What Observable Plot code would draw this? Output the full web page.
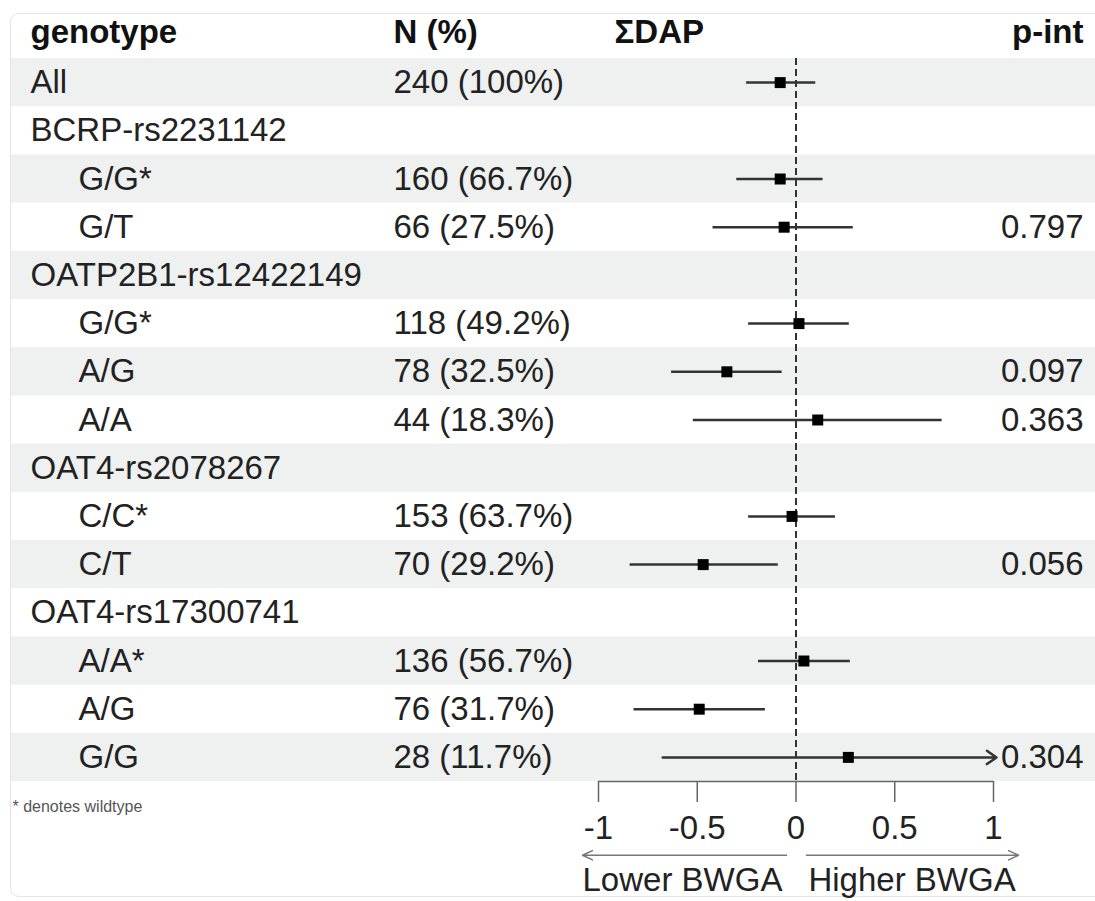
<!DOCTYPE html>
<html>
<head>
<meta charset="utf-8">
<script src="https://cdn.jsdelivr.net/npm/d3@7"></script>
<script src="https://cdn.jsdelivr.net/npm/@observablehq/plot@0.6"></script>
<style>
  html, body { margin: 0; padding: 0; background: #fff; }
  #wrap { position: relative; width: 1095px; height: 901px; overflow: hidden; }
  #border { position: absolute; left: 10px; top: 13px; width: 1110px; height: 884px;
            border: 1.5px solid #e4e4e4; border-radius: 9px; box-sizing: border-box; }
  #chart { position: absolute; left: 0; top: 0; }
</style>
</head>
<body>
<div id="wrap"><div id="border"></div><div id="chart"></div></div>
<script>
// ---- data ----
const labels = ["All", "BCRP-rs2231142", "G/G*", "G/T", "OATP2B1-rs12422149", "G/G*", "A/G", "A/A",
                "OAT4-rs2078267", "C/C*", "C/T", "OAT4-rs17300741", "A/A*", "A/G", "G/G"];
const indented = [false, false, true, true, false, true, true, true, false, true, true, false, true, true, true];
const nPct = ["240 (100%)", "", "160 (66.7%)", "66 (27.5%)", "", "118 (49.2%)", "78 (32.5%)", "44 (18.3%)",
              "", "153 (63.7%)", "70 (29.2%)", "", "136 (56.7%)", "76 (31.7%)", "28 (11.7%)"];
const estimate = [-0.08, null, -0.08, -0.06, null, 0.015, -0.35, 0.11, null, -0.02, -0.47, null, 0.04, -0.49, 0.265];
const lower    = [-0.25, null, -0.30, -0.42, null, -0.24, -0.63, -0.52, null, -0.24, -0.84, null, -0.19, -0.82, -0.675];
const upper    = [0.10, null, 0.137, 0.29, null, 0.27, -0.07, 0.74, null, 0.20, -0.09, null, 0.275, -0.155, 1.21];
const pInt = ["", "", "", "0.797", "", "", "0.097", "0.363", "", "", "0.056", "", "", "", "0.304"];
const headers = ["genotype", "N (%)", "ΣDAP", "p-int"];
const xTicks = [-1, -0.5, 0, 0.5, 1];
const xLimit = [-1, 1];
const directions = [
  {label: "Lower BWGA", from: -0.048, to: -1.081},
  {label: "Higher BWGA", from: 0.053, to: 1.127}
];
const footnote = "* denotes wildtype";

// ---- table built from arrays ----
const rows = labels.map((label, i) => ({
  i, label, indented: indented[i], n: nPct[i], est: estimate[i], lo: lower[i], hi: upper[i], p: pInt[i]
}));
const ests = rows.filter(d => d.est != null);
const within = ests.filter(d => d.hi <= xLimit[1]);
const beyond = ests.filter(d => d.hi > xLimit[1]);

const textColor = "#222";
const fs = 33;

const plot = Plot.plot({
  width: 1095,
  height: 901,
  marginTop: 58,
  marginBottom: 120,
  marginLeft: 0,
  marginRight: 0,
  style: {fontFamily: "'Liberation Sans', Arial, Helvetica, sans-serif", background: "transparent"},
  x: {domain: xLimit, range: [598, 993], axis: null},
  y: {domain: [-0.5, 14.5], range: [58, 781], axis: null},
  marks: [
    // alternating row shading
    Plot.rect(rows.filter(d => d.i % 2 === 0), {y1: d => d.i - 0.5, y2: d => d.i + 0.5, fill: "#eef1f0", insetLeft: 11}),
    // zero reference
    Plot.ruleX([0], {stroke: "#333", strokeWidth: 2, strokeDasharray: "7,4"}),
    // headers
    Plot.text([headers[0]], {frameAnchor: "left", y: () => -1.05, dx: 30, text: d => d, textAnchor: "start", fontWeight: "bold", fontSize: fs, fill: "#111"}),
    Plot.text([headers[1]], {frameAnchor: "left", y: () => -1.05, dx: 393, text: d => d, textAnchor: "start", fontWeight: "bold", fontSize: fs, fill: "#111"}),
    Plot.text([headers[2]], {frameAnchor: "left", y: () => -1.05, dx: 614, text: d => d, textAnchor: "start", fontWeight: "bold", fontSize: fs, fill: "#111"}),
    Plot.text([headers[3]], {frameAnchor: "right", y: () => -1.05, dx: -12, text: d => d, textAnchor: "end", fontWeight: "bold", fontSize: fs, fill: "#111"}),
    // genotype column
    Plot.text(rows.filter(d => !d.indented), {frameAnchor: "left", y: "i", dx: 30, text: "label", textAnchor: "start", fontSize: fs, fill: textColor}),
    Plot.text(rows.filter(d => d.indented), {frameAnchor: "left", y: "i", dx: 78, text: "label", textAnchor: "start", fontSize: fs, fill: textColor}),
    // N (%) column
    Plot.text(rows.filter(d => d.n), {frameAnchor: "left", y: "i", dx: 393, text: "n", textAnchor: "start", fontSize: fs, fill: textColor}),
    // p-int column
    Plot.text(rows.filter(d => d.p), {frameAnchor: "right", y: "i", dx: -12, text: "p", textAnchor: "end", fontSize: fs, fill: textColor}),
    // confidence intervals
    Plot.ruleY(within, {y: "i", x1: "lo", x2: "hi", stroke: "#333", strokeWidth: 2.5}),
    Plot.arrow(beyond, {x1: "lo", x2: () => xLimit[1], y1: "i", y2: "i", stroke: "#333", strokeWidth: 2.5, headLength: 7, headAngle: 70, insetEnd: -3}),
    // point estimates
    Plot.dot(ests, {x: "est", y: "i", symbol: "square", r: 6.2, fill: "#000", stroke: null}),
    // x axis
    Plot.ruleY([14.5], {x1: () => d3.min(xTicks), x2: () => d3.max(xTicks), stroke: "#666", strokeWidth: 1.5}),
    Plot.axisX(xTicks, {anchor: "bottom", tickSize: 21, tickPadding: 13, fontSize: fs, tickFormat: d => String(d), stroke: "#666", strokeWidth: 1.5, fill: textColor, label: null}),
    // direction arrows
    Plot.arrow(directions, {x1: "from", x2: "to", y1: () => 16.03, y2: () => 16.03, stroke: "#777", strokeWidth: 1.5, headLength: 11, headAngle: 50}),
    Plot.text(directions, {x: d => Math.min(d.from, d.to) > -0.5 ? d.from + 0.01 : d.to, y: () => 16.55, text: "label", textAnchor: "start", fontSize: fs, fill: textColor}),
    // footnote
    Plot.text([footnote], {frameAnchor: "left", y: () => 15.02, dx: 12, text: d => d, textAnchor: "start", fontSize: 16, fill: "#555"})
  ]
});
document.getElementById("chart").appendChild(plot);
</script>
</body>
</html>
